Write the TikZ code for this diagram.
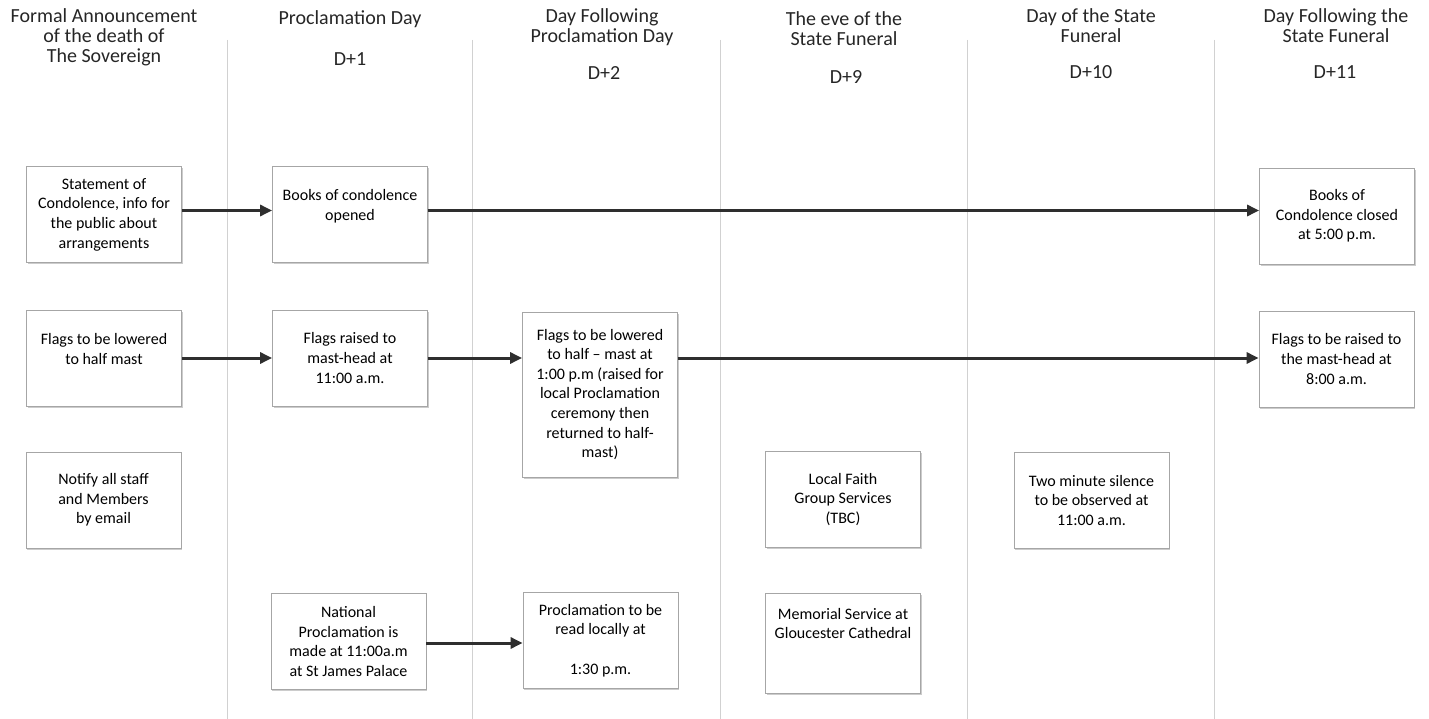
\documentclass[tikz,border=0pt]{standalone}
\usepackage{fontspec}
\setmainfont{Carlito}
\usetikzlibrary{arrows.meta,shadows}

\begin{document}
\begin{tikzpicture}[x=1pt, y=-1pt,
      head/.style={align=center, font=\fontsize{20}{20}\selectfont, text=black!85, inner sep=0pt},
      box/.style={draw=black!35, line width=0.8pt, fill=white, align=center, inner sep=2pt,
        minimum width=155pt, minimum height=96pt, font=\fontsize{16}{19.6}\selectfont, text=black,
        drop shadow={shadow xshift=1.2pt, shadow yshift=-1.8pt, opacity=.4}},
      tall/.style={box, minimum height=165pt},
      arr/.style={line width=3pt, draw=black!82, -{Triangle[length=12pt,width=11pt]}},
      sep/.style={draw=black!18, line width=1pt}]
    \useasboundingbox (0,0) rectangle (1429,719);
    % column rules
    \foreach \x in {227,472,720,967,1214}
      \draw[sep] (\x,40) -- (\x,719);
    % column heads
    \node[head] (h0) at (104,37) {Formal Announcement\\of the death of\\The Sovereign};
    \node[head] (h1) at (350,19) {Proclamation Day};
    \node[head] (h2) at (602,27) {Day Following\\Proclamation Day};
    \node[head] (h3) at (844,29) {The eve of the\\State Funeral};
    \node[head] (h4) at (1091,26) {Day of the State\\Funeral};
    \node[head] (h5) at (1336,26) {Day Following the\\State Funeral};
    \node[head] (d1) at (350,59) {D+1};
    \node[head] (d2) at (604,73) {D+2};
    \node[head] (d3) at (846,77) {D+9};
    \node[head] (d4) at (1091,72) {D+10};
    \node[head] (d5) at (1335,72) {D+11};
    % condolence row
    \node[box] (stmt) at (104,214.5) {Statement of\\Condolence, info for\\the public about\\arrangements};
    \node[box] (open) at (350,214.5) {Books of condolence\\opened\\~};
    \node[box] (close) at (1337,216) {Books of\\Condolence closed\\at 5:00 p.m.};
    % flags row
    \node[box] (half) at (104,358.5) {Flags to be lowered\\to half mast\\~};
    \node[box] (raise) at (350,358) {Flags raised to\\mast-head at\\11:00 a.m.};
    \node[tall] (lower) at (600,394.5) {Flags to be lowered\\to half – mast at\\1:00 p.m (raised for\\local Proclamation\\ceremony then\\returned to half-\\mast)};
    \node[box] (mast) at (1336.5,359) {Flags to be raised to\\the mast-head at\\8:00 a.m.};
    % third row
    \node[box] (notify) at (103.5,500) {Notify all staff\\and Members\\by email};
    \node[box] (faith) at (843,499.5) {Local Faith\\Group Services\\(TBC)};
    \node[box] (silence) at (1091.5,500.5) {Two minute silence\\to be observed at\\11:00 a.m.};
    % proclamation row
    \node[box] (natl) at (348.5,641.5) {National\\Proclamation is\\made at 11:00a.m\\at St James Palace};
    \node[box] (local) at (600.5,640.5) {Proclamation to be\\read locally at\\~\\1:30 p.m.};
    \node[box, minimum height=100pt] (memo) at (843,643) {Memorial Service at\\Gloucester Cathedral\\~\\~};
    % arrows
    \draw[arr] ([yshift=4pt]stmt.east) -- ([yshift=4pt]stmt.east -| open.west);
    \draw[arr] ([yshift=4pt]open.east) -- ([yshift=4pt]open.east -| close.west);
    \draw[arr] (half.east |- raise.east) -- (raise.west);
    \draw[arr] (raise.east) -- (raise.east -| lower.west);
    \draw[arr] (lower.east |- raise.east) -- (mast.west |- raise.east);
    \draw[arr] ([yshift=-1.5pt]natl.east) -- ([yshift=-1.5pt]natl.east -| local.west);
  \end{tikzpicture}
\end{document}
